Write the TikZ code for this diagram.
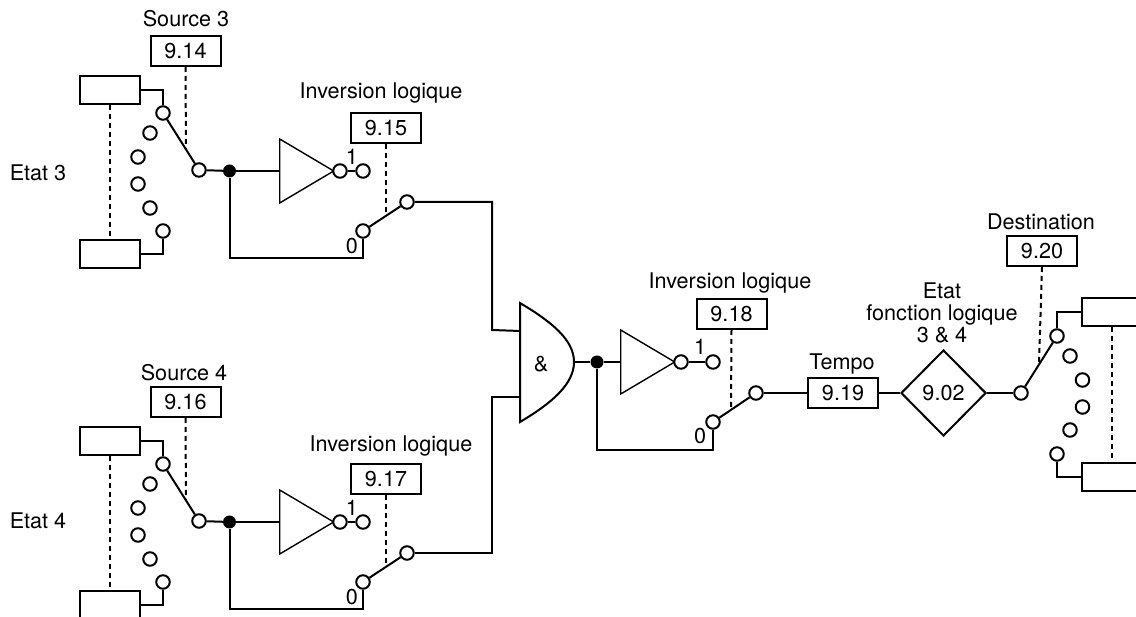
\documentclass[tikz,border=0pt]{standalone}
\usepackage{fontspec}
\setmainfont{TeX Gyre Heros}
\usetikzlibrary{positioning, calc, shapes.geometric}
\tikzset{
  wire/.style={line width=2pt},
  dashwire/.style={line width=2pt, dash pattern=on 5pt off 4pt},
  contact/.style={circle, draw, line width=2pt, fill=white, minimum size=13.5pt, inner sep=0pt},
  paramval/.style={rectangle, draw, line width=2pt, minimum width=70pt, minimum height=30pt, inner sep=0pt},
  statebox/.style={rectangle, draw, line width=2pt, minimum width=60pt, minimum height=28pt, inner sep=0pt},
  junction/.style={circle, fill=black, minimum size=13pt, inner sep=0pt},
  lbl/.style={inner sep=0pt},
  inverter/.style={isosceles triangle, isosceles triangle stretches, draw, line width=1.4pt,
    minimum width=64pt, minimum height=54pt, inner sep=0pt, anchor=lower side},
}
% one input group: #1 prefix, #2 shift, #3 source value, #4 inversion value
\newcommand{\inputgroup}[4]{%
  \begin{scope}[yshift=#2]
    \node[paramval] (#1src) at (185.5,51) {#3};
    \node[statebox] (#1hi) at (110,90) {};
    \node[statebox] (#1lo) at (110,254) {};
    \foreach \n/\x/\y in {a/163/113, b/150/133, c/138/157, d/138/184, e/150/208, f/163/231}
      \node[contact] (#1\n) at (\x,\y) {};
    \node[contact] (#1com) at (199,170) {};
    \node[junction] (#1dot) at (229.5,171) {};
    \node[inverter] (#1inv) at (279,171) {};
    \node[contact] (#1neg) at (340,171) {};
    \node[contact] (#1one) at (363,171) {};
    \node[paramval] (#1par) at (386,128) {#4};
    \node[contact] (#1zero) at (363,231) {};
    \node[contact] (#1out) at (407,202) {};
    \node[lbl] (#1n1) at (352,157) {1};
    \node[lbl] (#1n0) at (352,246) {0};
    \coordinate (#1m1) at (186,150);
    \coordinate (#1m2) at (386,215);
    \draw[wire] (#1hi.east) -| (#1a);
    \draw[wire] (#1lo.east) -| (#1f);
    \draw[dashwire] (#1hi.south) -- (#1lo.north);
    \draw[dashwire] (#1src.south) -- (#1m1);
    \draw[dashwire] (#1par.south) -- (#1m2);
    \draw[wire] (#1a) -- (#1com);
    \draw[wire] (#1com) -- (#1dot);
    \draw[wire] (#1dot) -- (#1inv.lower side);
    \draw[wire] (#1neg) -- (#1one);
    \draw[wire] (#1zero) -- (#1out);
    \draw[wire] (#1dot) |- ($(#1zero)+(0,27)$) -- (#1zero);
  \end{scope}}

\begin{document}
\begin{tikzpicture}[x=1pt, y=-1pt, font=\fontsize{21.6}{22}\selectfont]
  \useasboundingbox (0,0) rectangle (1136,617);
  \clip (0,0) rectangle (1136,617);
  \inputgroup{t}{0pt}{9.14}{9.15}
  \inputgroup{b}{-351pt}{9.16}{9.17}
  \node[lbl] (etat3) at (38,173) {Etat 3};
  \node[lbl] (etat4) at (38,521) {Etat 4};
  \node[lbl] (src3) at (186,19) {Source 3};
  \node[lbl] (src4) at (184,373) {Source 4};
  \node[lbl] (inv3) at (381,93) {Inversion logique};
  \node[lbl] (inv4) at (391,446) {Inversion logique};
  % and gate
  \draw[line width=2pt] (520,303) .. controls (552,322) and (574,340) .. (574,362)
    .. controls (574,384) and (552,403) .. (520,422) -- cycle;
  \node[lbl] (amp) at (541,364) {\&};
  \coordinate (andA) at (520,331);
  \coordinate (andB) at (520,397);
  \coordinate (andOut) at (574,362);
  \draw[wire] (tout) -| ($(tout)+(85,128)$) -- (andA);
  \draw[wire] (bout) -| ($(bout)+(85,-156)$) -- (andB);
  % output side
  \node[junction] (dotout) at (597,362) {};
  \node[inverter] (invout) at (620,362) {};
  \node[contact] (negout) at (681,362) {};
  \node[contact] (oneout) at (713,362) {};
  \node[contact] (zeroout) at (713,422) {};
  \node[contact] (swout) at (756,393) {};
  \node[lbl] at (700,347) {1};
  \node[lbl] at (700,436) {0};
  \node[paramval] (p18) at (731.5,314) {9.18};
  \node[lbl] (inv18) at (730,283) {Inversion logique};
  \node[paramval] (p19) at (843,393) {9.19};
  \node[lbl] (tempo) at (842,364) {Tempo};
  \node[diamond, draw, line width=2pt, minimum width=85pt, minimum height=86pt, inner sep=0pt] (d02) at (943.5,393) {9.02};
  \node[lbl, align=center] (etatf) at (942,312.5) {Etat\\fonction logique\\3 \& 4};
  \node[contact] (comd) at (1021,393) {};
  \foreach \n/\x/\y in {a/1057/336, b/1070/356, c/1082.5/380, d/1082.5/407, e/1070/430, f/1057/454}
    \node[contact] (r\n) at (\x,\y) {};
  \node[statebox, anchor=west] (rhi) at (1081,312.5) {};
  \node[statebox, anchor=west] (rlo) at (1081,477) {};
  \node[paramval] (p20) at (1042,251) {9.20};
  \node[lbl] (dest) at (1041,222) {Destination};
  \coordinate (m18) at (731,409);
  \coordinate (m20) at (1039,364);
  \draw[wire] (andOut) -- (dotout);
  \draw[wire] (dotout) -- (invout.lower side);
  \draw[wire] (negout) -- (oneout);
  \draw[wire] (zeroout) -- (swout);
  \draw[wire] (dotout) |- ($(zeroout)+(0,28)$) -- (zeroout);
  \draw[wire] (swout) -- (p19);
  \draw[wire] (p19) -- (d02);
  \draw[wire] (d02) -- (comd);
  \draw[wire] (comd) -- (ra);
  \draw[wire] (rhi.west) -| (ra);
  \draw[wire] (rlo.west) -| (rf);
  \draw[dashwire] (p18.south) -- (m18);
  \draw[dashwire] (p20.south) -- (m20);
  \draw[dashwire] (rhi.south) -- (rlo.north);
\end{tikzpicture}
\end{document}
